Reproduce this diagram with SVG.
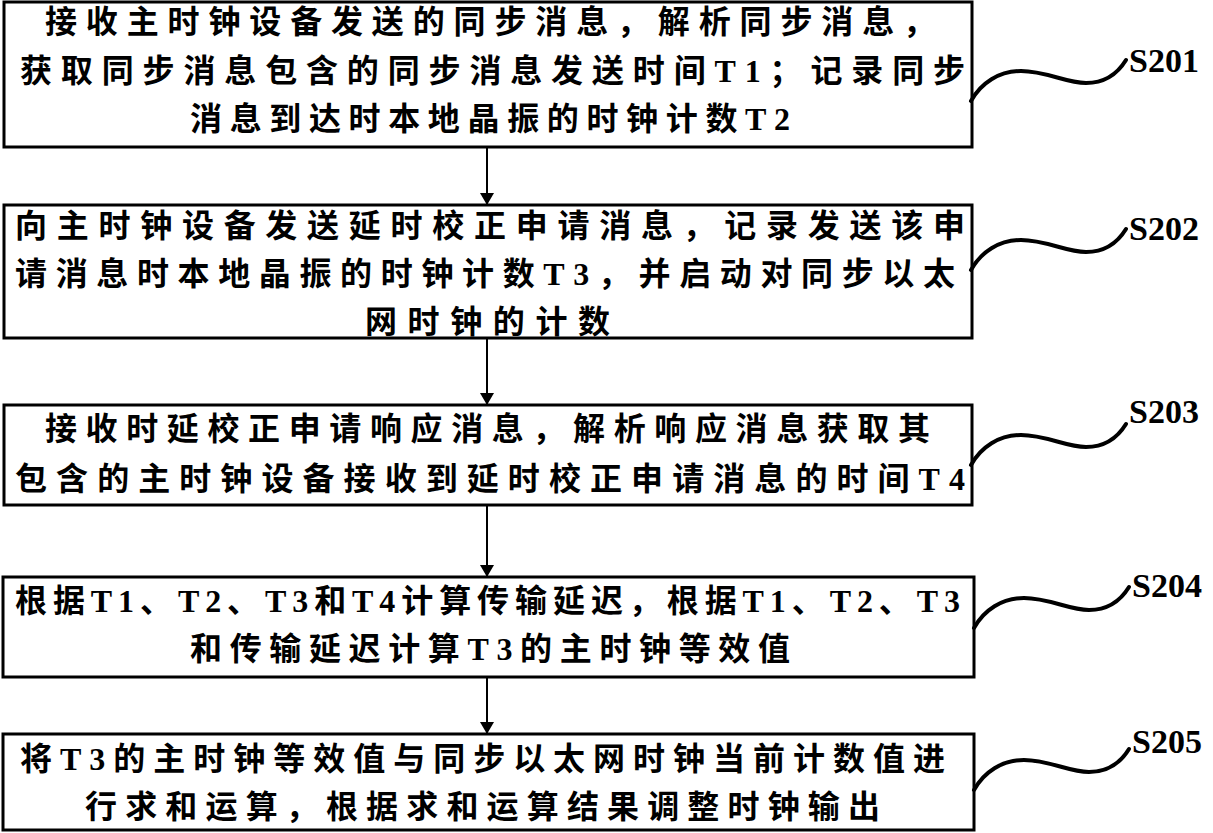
<svg xmlns="http://www.w3.org/2000/svg" width="1213" height="833" viewBox="0 0 1213 833">
<style>
.b{fill:#fff;stroke:#000;stroke-width:3}
.t{font-family:"Liberation Serif","Noto Sans CJK SC",serif;font-weight:bold;font-size:32px;fill:#000}
.l{font-family:"Liberation Serif",serif;font-weight:bold;font-size:34px;fill:#000}
.c{fill:none;stroke:#000;stroke-width:2}
.s{fill:none;stroke:#000;stroke-width:4;stroke-linecap:round}
</style>
<defs><marker id="a" markerWidth="12" markerHeight="14" refX="11" refY="7" orient="auto" markerUnits="userSpaceOnUse"><path d="M0,0 L12,7 L0,14 z" fill="#000"/></marker></defs>
<rect width="1213" height="833" fill="#fff"/>
<g id="n1"><rect class="b" x="4" y="2" width="968" height="145"/>
<text class="t" x="45" y="33" textLength="890" lengthAdjust="spacing">接收主时钟设备发送的同步消息，解析同步消息，</text>
<text class="t" x="20" y="82" textLength="945" lengthAdjust="spacing">获取同步消息包含的同步消息发送时间T1；记录同步</text>
<text class="t" x="190" y="130" textLength="600" lengthAdjust="spacing">消息到达时本地晶振的时钟计数T2</text></g>
<g id="n2"><rect class="b" x="4" y="205" width="968" height="133"/>
<text class="t" x="15" y="237" textLength="950" lengthAdjust="spacing">向主时钟设备发送延时校正申请消息，记录发送该申</text>
<text class="t" x="15" y="285" textLength="940" lengthAdjust="spacing">请消息时本地晶振的时钟计数T3，并启动对同步以太</text>
<text class="t" x="365" y="333" textLength="245" lengthAdjust="spacing">网时钟的计数</text></g>
<g id="n3"><rect class="b" x="4" y="405" width="968" height="100"/>
<text class="t" x="45" y="440" textLength="885" lengthAdjust="spacing">接收时延校正申请响应消息，解析响应消息获取其</text>
<text class="t" x="15" y="490" textLength="950" lengthAdjust="spacing">包含的主时钟设备接收到延时校正申请消息的时间T4</text></g>
<g id="n4"><rect class="b" x="3" y="577" width="971" height="100"/>
<text class="t" x="15" y="612" textLength="945" lengthAdjust="spacing">根据T1、T2、T3和T4计算传输延迟，根据T1、T2、T3</text>
<text class="t" x="190" y="660" textLength="600" lengthAdjust="spacing">和传输延迟计算T3的主时钟等效值</text></g>
<g id="n5"><rect class="b" x="3" y="734" width="971" height="96"/>
<text class="t" x="20" y="770" textLength="925" lengthAdjust="spacing">将T3的主时钟等效值与同步以太网时钟当前计数值进</text>
<text class="t" x="85" y="818" textLength="795" lengthAdjust="spacing">行求和运算，根据求和运算结果调整时钟输出</text></g>
<g id="connectors">
<path class="c" d="M487,147 V204" marker-end="url(#a)"/>
<path class="c" d="M487,338 V404" marker-end="url(#a)"/>
<path class="c" d="M487,505 V576" marker-end="url(#a)"/>
<path class="c" d="M487,677 V733" marker-end="url(#a)"/>
<path class="s" d="M971,101 c10,-18 28,-30 50,-30 c25,0 45,12 65,12 c20,0 32,-10 40,-23"/>
<path class="s" d="M971,270 c10,-18 28,-30 50,-30 c25,0 45,12 65,12 c20,0 32,-10 40,-23"/>
<path class="s" d="M971,465 c10,-18 28,-30 50,-30 c25,0 45,12 65,12 c20,0 32,-10 40,-23"/>
<path class="s" d="M974,628 c10,-18 28,-30 50,-30 c25,0 45,12 65,12 c20,0 32,-10 40,-23"/>
<path class="s" d="M974,790 c10,-18 28,-30 50,-30 c25,0 45,12 65,12 c20,0 32,-10 40,-23"/>
</g>
<text class="l" x="1129" y="72">S201</text>
<text class="l" x="1129" y="240">S202</text>
<text class="l" x="1129" y="423">S203</text>
<text class="l" x="1132" y="597">S204</text>
<text class="l" x="1132" y="753">S205</text>
</svg>
